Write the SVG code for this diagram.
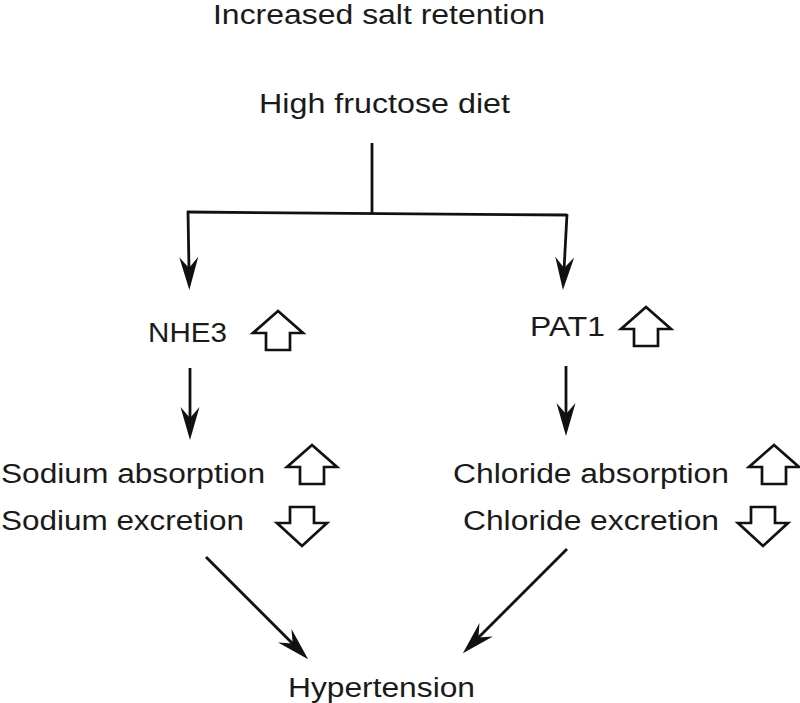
<svg xmlns="http://www.w3.org/2000/svg" xmlns:xlink="http://www.w3.org/1999/xlink" width="800" height="703" viewBox="0 0 800 703">
<style>
.t{font-family:"Liberation Sans","Helvetica",Arial,sans-serif;font-size:27px;fill:#1a1a1a;}
.c{fill:none;stroke:#111;stroke-width:2.8;}
.h{fill:#fff;stroke:#111;stroke-width:2.7;stroke-linejoin:miter;}
</style>
<defs>
<marker id="ah" markerUnits="userSpaceOnUse" viewBox="-20 -15 45 30" markerWidth="45" markerHeight="30" refX="0" refY="0" orient="auto">
<path d="M20,0 L-13,-9.5 L-2,0 L-13,9.5 Z" fill="#111"/>
</marker>
<path id="up" class="h" d="M0,0 L25,22 L12,22 L12,39 L-12,39 L-12,22 L-25,22 Z"/>
<path id="down" class="h" d="M-12,0 L12,0 L12,16 L25,16 L0,39 L-25,16 L-12,16 Z"/>
</defs>
<rect width="800" height="703" fill="#fff"/>

<g id="title">
<text class="t" x="213" y="24" font-size="26" textLength="332" lengthAdjust="spacingAndGlyphs">Increased salt retention</text>
</g>
<g id="diet">
<text class="t" x="259" y="113" textLength="251" lengthAdjust="spacingAndGlyphs">High fructose diet</text>
</g>
<g id="nhe3">
<text class="t" x="148" y="342" textLength="79" lengthAdjust="spacingAndGlyphs">NHE3</text>
<use xlink:href="#up" href="#up" x="278" y="311"/>
</g>
<g id="pat1">
<text class="t" x="530" y="336" textLength="75" lengthAdjust="spacingAndGlyphs">PAT1</text>
<use xlink:href="#up" href="#up" x="646" y="307"/>
</g>
<g id="sodium">
<text class="t" x="1" y="483" textLength="264" lengthAdjust="spacingAndGlyphs">Sodium absorption</text>
<use xlink:href="#up" href="#up" x="312" y="445"/>
<text class="t" x="1" y="530" textLength="243" lengthAdjust="spacingAndGlyphs">Sodium excretion</text>
<use xlink:href="#down" href="#down" x="302" y="507"/>
</g>
<g id="chloride">
<text class="t" x="453" y="483" textLength="276" lengthAdjust="spacingAndGlyphs">Chloride absorption</text>
<use xlink:href="#up" href="#up" x="774" y="445"/>
<text class="t" x="463" y="530" textLength="256" lengthAdjust="spacingAndGlyphs">Chloride excretion</text>
<use xlink:href="#down" href="#down" x="763" y="507"/>
</g>
<g id="hypertension">
<text class="t" x="288" y="697" textLength="187" lengthAdjust="spacingAndGlyphs">Hypertension</text>
</g>

<g id="connectors">
<path class="c" d="M372,143 V213"/>
<path class="c" d="M187,212 L567,215"/>
<path class="c" d="M188,211 L189,270" marker-end="url(#ah)"/>
<path class="c" d="M567,214 L564,270" marker-end="url(#ah)"/>
<path class="c" d="M190,368 V420" marker-end="url(#ah)"/>
<path class="c" d="M566,366 V416" marker-end="url(#ah)"/>
<path class="c" d="M206,557 L294,645" marker-end="url(#ah)"/>
<path class="c" d="M567,549 L477,639" marker-end="url(#ah)"/>
</g>
</svg>
